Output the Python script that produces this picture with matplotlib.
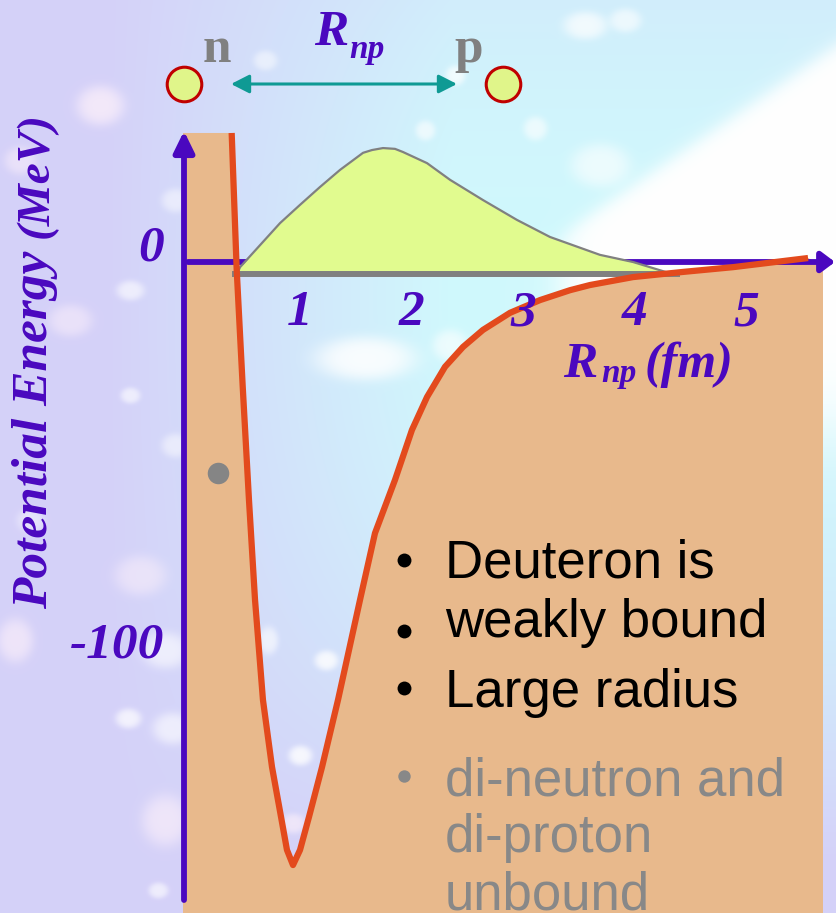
import numpy as np
import matplotlib
matplotlib.use('Agg')
import matplotlib.pyplot as plt

W, H = 836, 913

# n-p potential V(r): r in fm, V in MeV
r_pot = [0.391, 0.436, 0.490, 0.546, 0.600, 0.671, 0.752, 0.833, 0.886, 0.940,
         1.003, 1.083, 1.200, 1.343, 1.540, 1.674, 1.853, 2.005, 2.140, 2.301,
         2.462, 2.641, 2.883, 3.151, 3.420, 3.599, 3.984, 4.431, 4.879, 5.551]
v_pot = [32.5, -2.0, -31.5, -60.0, -85.1, -110.3, -127.2, -139.8, -148.1, -151.9,
         -148.1, -139.8, -127.2, -110.3, -85.1, -68.3, -54.9, -42.3, -34.0, -26.4,
         -21.4, -17.1, -12.8, -9.6, -7.1, -5.8, -3.8, -2.5, -1.3, 1.0]

# deuteron wavefunction sketch, drawn on top of the bound level
r_wave = [0.439, 0.466, 0.824, 1.003, 1.182, 1.361, 1.567, 1.647, 1.746, 1.853,
          1.925, 2.140, 2.346, 2.641, 2.945, 3.241, 3.688, 3.984, 4.333]
psi_wave = [-3.0, -1.3, 9.8, 14.4, 18.9, 23.2, 27.5, 28.2, 28.7, 28.5,
            27.7, 24.9, 20.7, 15.6, 10.6, 6.3, 1.8, 0.0, -3.0]

e_bound = -3.0
bound_r = [0.394, 4.405]

x_ticks = [1, 2, 3, 4, 5]
y_ticks = [0, -100]

bullets_black = ['Deuteron is', 'weakly bound', 'Large radius']
bullets_gray = ['di-neutron and', 'di-proton', 'unbound']

purple = '#4a08bf'
tan = '#e8b98c'
red = '#e34a1d'
green = '#e1fb8f'
gray = '#808080'
teal = '#0f9a94'
serif = 'Liberation Serif'
sans = 'Liberation Sans'

# pixel -> data (fm, MeV)
X0, SX, Y0, SY = 188.0, 111.7, 262.0, 3.97
def pos(px, py):
    return (px - X0) / SX, (Y0 - py) / SY

# ---- background: lavender -> cyan sky with soft clouds ----
yy, xx = np.mgrid[0:H, 0:W].astype(float)
lav = np.array([0.835, 0.82, 0.975])
cyan = np.array([0.815, 0.975, 0.99])
t = np.clip(2.4 * xx / W - 0.3, 0, 1) * np.clip(1 - ((yy - 300) / 560) ** 2, 0, 1)
img = lav[None, None, :] * (1 - t[..., None]) + cyan[None, None, :] * t[..., None]

def cloud(cx, cy, rx, ry, a, tint=(1, 1, 1)):
    global img
    m = a * np.exp(-(((xx - cx) / rx) ** 2 + ((yy - cy) / ry) ** 2) ** 2)
    img = img * (1 - m[..., None]) + np.array(tint)[None, None, :] * m[..., None]

pink = (1.0, 0.95, 0.98)
for c in [(100, 105, 24, 20, 0.7, pink), (20, 160, 16, 14, 0.5, pink),
          (70, 320, 22, 16, 0.5, pink), (130, 290, 14, 10, 0.6, (1, 1, 1)),
          (175, 200, 14, 12, 0.5, (1, 1, 1)), (130, 395, 10, 8, 0.6, (1, 1, 1)),
          (175, 445, 14, 12, 0.5, (1, 1, 1)), (140, 575, 26, 20, 0.5, pink),
          (15, 640, 18, 22, 0.6, pink), (165, 650, 24, 18, 0.6, (1, 1, 1)),
          (128, 718, 13, 10, 0.7, (1, 1, 1)), (172, 728, 20, 16, 0.6, (1, 1, 1)),
          (165, 820, 24, 26, 0.6, pink), (158, 890, 10, 8, 0.6, (1, 1, 1)),
          (265, 60, 12, 10, 0.5, (1, 1, 1)), (455, 75, 10, 10, 0.7, (1, 1, 1)),
          (425, 130, 10, 10, 0.6, (1, 1, 1)), (535, 128, 12, 12, 0.6, (1, 1, 1)),
          (585, 25, 22, 14, 0.7, (1, 1, 1)), (625, 20, 16, 12, 0.6, (1, 1, 1)),
          (365, 358, 50, 22, 0.85, (1, 1, 1)), (450, 345, 18, 16, 0.6, (1, 1, 1)),
          (268, 640, 10, 14, 0.6, (1, 1, 1)), (326, 660, 12, 10, 0.8, (1, 1, 1)),
          (300, 755, 12, 10, 0.8, (1, 1, 1)), (293, 823, 12, 10, 0.6, pink),
          (600, 165, 30, 22, 0.6, (1, 1, 1)), (30, 520, 14, 12, 0.4, (1, 1, 1))]:
    cloud(*c)

# large cloud bank to the upper right
edge = 235 - (xx - 560) * (190 / 276)
bank = 1 / (1 + np.exp(-(yy - edge) / 6)) * 1 / (1 + np.exp(-(xx - 560) / 10))
bank *= 1 / (1 + np.exp(-(430 - yy) / 25))
img = img * (1 - bank[..., None]) + bank[..., None]

fig = plt.figure(figsize=(W / 100, H / 100), dpi=100)
bg = fig.add_axes([0, 0, 1, 1])
bg.imshow(np.clip(img, 0, 1), aspect='auto', extent=(0, W, H, 0), interpolation='bilinear')
bg.axis('off')

ax = fig.add_axes([0, 0, 1, 1])
ax.patch.set_alpha(0)
ax.set_xlim(pos(0, 0)[0], pos(W, 0)[0])
ax.set_ylim(pos(0, H)[1], pos(0, 0)[1])
ax.axis('off')

# tan region outside the well (left wall column + everything under the curve)
x_left, _ = pos(183, 0)
x_right, _ = pos(823, 0)
y_bot = pos(0, H + 5)[1]
poly_x = [x_left, x_left] + r_pot + [x_right, x_right]
poly_y = [y_bot, v_pot[0]] + v_pot + [pos(0, 266)[1], y_bot]
ax.fill(poly_x, poly_y, color=tan, lw=0, zorder=1)

# axes arrows
ax.annotate('', xy=pos(184, 131), xytext=pos(184, 900),
            arrowprops=dict(arrowstyle='-|>,head_length=0.45,head_width=0.22', lw=4.2,
                            color=purple, shrinkA=0, shrinkB=0, mutation_scale=28),
            zorder=2)
ax.annotate('', xy=pos(835, 262), xytext=pos(188, 262),
            arrowprops=dict(arrowstyle='-|>,head_length=0.4,head_width=0.3', lw=4.2,
                            color=purple, shrinkA=0, shrinkB=0, mutation_scale=20),
            zorder=2)

# wavefunction and bound level
ax.fill_between(r_wave, psi_wave, e_bound, color=green, lw=0, zorder=3)
ax.plot(r_wave, psi_wave, color=gray, lw=1.6, solid_joinstyle='round', zorder=3)
ax.plot(bound_r, [e_bound, e_bound], color=gray, lw=4.3, solid_capstyle='butt', zorder=4)

# potential curve
ax.plot(r_pot, v_pot, color=red, lw=4.5, solid_joinstyle='round', solid_capstyle='butt', zorder=5)

# tick labels
for t_ in x_ticks:
    ax.text(t_, pos(0, 325)[1], str(t_), family=serif, weight='bold', style='italic',
            size=37, color=purple, ha='center', va='baseline', zorder=6)
for t_ in y_ticks:
    ax.text(pos(164, 0)[0], t_ + 0.5, str(t_), family=serif, weight='bold', style='italic',
            size=37, color=purple, ha='right', va='baseline', zorder=6)

# axis titles
ax.text(*pos(563, 377), 'R', family=serif, weight='bold', style='italic', size=37,
        color=purple, ha='left', va='baseline', zorder=6)
ax.text(*pos(601, 382), 'np', family=serif, weight='bold', style='italic', size=24,
        color=purple, ha='left', va='baseline', zorder=6)
ax.text(*pos(645, 377), '(fm)', family=serif, weight='bold', style='italic', size=36,
        color=purple, ha='left', va='baseline', zorder=6)
ax.text(*pos(35, 430), 'Potential Energy', family=serif, weight='bold', style='italic',
        size=37, color=purple, rotation=90, ha='center', va='center', zorder=6)
ax.text(*pos(37, 175), '(MeV)', family=serif, weight='bold', style='italic',
        size=34, color=purple, rotation=90, ha='center', va='center', zorder=6)

# n and p with separation arrow
ax.scatter(*zip(pos(184, 84), pos(503, 84)), s=620, color='#e0f58a', edgecolors='#c00000',
           linewidths=2.2, zorder=6)
ax.text(*pos(217, 62), 'n', family=serif, weight='bold', size=37, color=gray,
        ha='center', va='baseline', zorder=6)
ax.text(*pos(469, 62), 'p', family=serif, weight='bold', size=37, color=gray,
        ha='center', va='baseline', zorder=6)
ax.annotate('', xy=pos(457, 84), xytext=pos(231, 84),
            arrowprops=dict(arrowstyle='<|-|>,head_length=0.55,head_width=0.28', lw=2.2,
                            color=teal, shrinkA=0, shrinkB=0, mutation_scale=20),
            zorder=6)
ax.text(*pos(314, 45), 'R', family=serif, weight='bold', style='italic', size=37,
        color=purple, ha='left', va='baseline', zorder=6)
ax.text(*pos(349, 58), 'np', family=serif, weight='bold', style='italic', size=24,
        color=purple, ha='left', va='baseline', zorder=6)

# gray marker in the wall column
ax.scatter(*pos(218, 473), s=240, color='#858585', lw=0, zorder=6)

# bullet list
for txt, by, dy in zip(bullets_black, [578, 637, 707], [560, 631, 688]):
    ax.text(*pos(445, by), txt, family=sans, size=38, color='black',
            ha='left', va='baseline', zorder=7)
    ax.scatter(*pos(404, dy), s=100, color='black', lw=0, zorder=7)
for txt, by in zip(bullets_gray, [795, 852, 910]):
    ax.text(*pos(445, by), txt, family=sans, size=38, color='#888888',
            ha='left', va='baseline', zorder=7)
ax.scatter(*pos(404, 776), s=80, color='#888888', lw=0, zorder=7)

fig.savefig('out.png', dpi=100)
